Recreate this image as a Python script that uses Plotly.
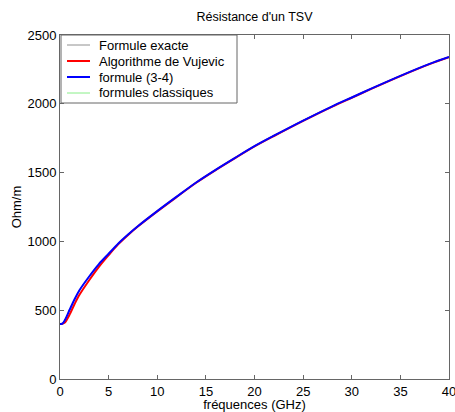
import plotly.graph_objects as go

freq = [0, 0.25, 0.5, 1, 1.5, 2, 3, 4, 5, 6, 7, 8, 10, 12, 14, 16, 18, 20, 22, 25, 28, 30, 32, 35, 38, 40]
r_exact = [400, 403, 428, 505, 580, 645, 745, 835, 910, 985, 1050, 1110, 1220, 1325, 1428, 1520, 1607, 1692, 1768, 1878, 1982, 2046, 2110, 2203, 2290, 2340]
r_vujevic = [400, 401, 410, 470, 545, 612, 718, 815, 900, 980, 1047, 1108, 1218, 1323, 1426, 1518, 1605, 1690, 1766, 1876, 1980, 2044, 2108, 2201, 2288, 2338]
r_f34 = [400, 403, 428, 505, 580, 645, 745, 835, 910, 985, 1050, 1110, 1220, 1325, 1428, 1520, 1607, 1692, 1768, 1878, 1982, 2046, 2110, 2203, 2290, 2340]
r_classic = [400, 403, 428, 505, 580, 645, 745, 835, 910, 985, 1050, 1110, 1220, 1325, 1428, 1520, 1607, 1692, 1768, 1878, 1982, 2046, 2110, 2203, 2290, 2340]

names = ["Formule exacte", "Algorithme de Vujevic", "formule (3-4)", "formules classiques"]
colors = ["#909090", "#ff0000", "#0000ff", "#88ee88"]
widths = [1, 2, 2, 1]

W, H = 455, 412
ML, MR, MT, MB = 60, 6, 35, 33
PW, PH = W - ML - MR, H - MT - MB

fig = go.Figure()
# draw order: classic, exact, vujevic, formula (3-4) on top
for idx, ys in [(3, r_classic), (0, r_exact), (1, r_vujevic), (2, r_f34)]:
    fig.add_trace(go.Scatter(x=freq, y=ys, mode="lines", name=names[idx],
                             line=dict(color=colors[idx], width=widths[idx], shape="spline", smoothing=0.8),
                             showlegend=False))

# manual MATLAB-style legend (pixel layout converted to paper coords)
def px(x):
    return (x - ML) / PW

def py(y):
    return (H - MB - y) / PH

fig.add_shape(type="rect", xref="paper", yref="paper",
              x0=px(61), x1=px(237), y0=py(103), y1=py(35),
              line=dict(color="#666666", width=1), fillcolor="white", layer="above")
row_y = [45, 61, 77, 93]
for i, name in enumerate(names):
    fig.add_shape(type="line", xref="paper", yref="paper",
                  x0=px(67), x1=px(90), y0=py(row_y[i]), y1=py(row_y[i]),
                  line=dict(color=colors[i], width=widths[i]), layer="above")
    fig.add_annotation(x=px(97), y=py(row_y[i]), xref="paper", yref="paper",
                       text=name, showarrow=False, xanchor="left", yanchor="middle",
                       font=dict(size=13, color="black"))

axis_common = dict(showline=True, linecolor="#666666", linewidth=1, mirror="ticks",
                   ticks="inside", ticklen=4, tickcolor="#666666", showgrid=False,
                   zeroline=False, automargin=False, ticklabeloverflow="allow",
                   tickfont=dict(size=13, color="black"))

fig.update_layout(
    width=W, height=H,
    margin=dict(l=ML, r=MR, t=MT, b=MB),
    paper_bgcolor="white", plot_bgcolor="white",
    font=dict(family="Liberation Sans, Arial, sans-serif", size=13, color="black"),
    title=dict(text="Résistance d'un TSV", x=(ML + PW / 2) / W, xanchor="center", xref="container",
               y=1 - 17 / H, yanchor="middle", yref="container", font=dict(size=12.5), automargin=False),
    xaxis=dict(range=[0, 40], dtick=5, tick0=0,
               title=dict(text="fréquences (GHz)", standoff=4, font=dict(size=13)),
               **axis_common),
    yaxis=dict(range=[0, 2500], dtick=500, tick0=0,
               title=dict(text="Ohm/m", standoff=2, font=dict(size=13)),
               **axis_common),
    showlegend=False,
)

fig.write_html("out.html", config={"displayModeBar": False},
               post_script="document.body.style.margin='0';document.body.style.overflow='hidden';")
